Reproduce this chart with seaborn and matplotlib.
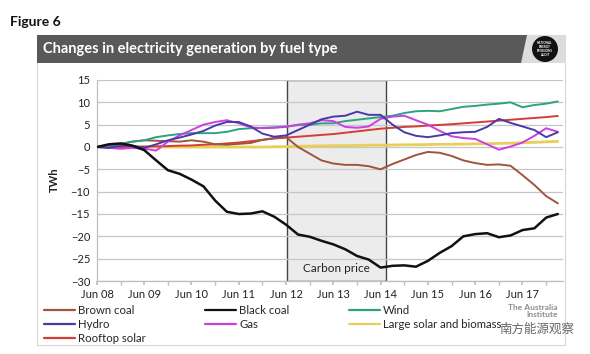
import pandas as pd
import matplotlib.pyplot as plt
import matplotlib.dates as mdates
from matplotlib.patches import Polygon, Rectangle, Ellipse
from matplotlib.lines import Line2D
import seaborn as sns

# quarterly readings, Jun 2008 -> Mar 2018 (TWh change since Jun 08)
dates = pd.date_range("2008-06-01", periods=40, freq="3MS")

brown_coal = [0, 0.5, 0.7, 1.2, 1.5, 1.4, 1.3, 1.2, 1.5, 1.2, 0.6, 0.5, 0.7, 0.9, 1.6, 2.0,
              2.2, 0.0, -1.5, -3.0, -3.7, -4.0, -4.0, -4.3, -5.0, -3.8, -2.8, -1.8, -1.1, -1.3,
              -2.0, -3.0, -3.6, -4.0, -3.9, -4.2, -6.3, -8.5, -11.0, -12.6]
black_coal = [0, 0.6, 0.8, 0.3, -0.7, -3.0, -5.2, -6.0, -7.3, -8.8, -12.0, -14.5, -15.0, -14.9,
              -14.4, -15.6, -17.4, -19.6, -20.1, -21.0, -21.8, -22.9, -24.4, -25.2, -27.0, -26.6,
              -26.5, -26.8, -25.5, -23.7, -22.2, -20.0, -19.5, -19.3, -20.2, -19.8, -18.6, -18.2,
              -15.8, -15.0]
wind = [0, 0.3, 0.6, 1.2, 1.5, 2.2, 2.6, 2.9, 3.1, 3.1, 3.1, 3.4, 4.0, 4.2, 4.3, 4.4, 4.6, 4.9,
        5.0, 5.3, 5.3, 5.8, 6.1, 6.4, 6.7, 7.0, 7.6, 8.0, 8.1, 8.0, 8.5, 9.0, 9.2, 9.5, 9.7,
        10.0, 8.9, 9.4, 9.7, 10.2]
hydro = [0, -0.2, 0.3, 0.3, -0.2, 0.6, 1.5, 2.1, 2.8, 3.6, 4.8, 5.6, 5.6, 4.6, 3.0, 2.3, 2.6,
         3.8, 5.0, 6.2, 6.8, 7.0, 7.9, 7.2, 7.2, 5.0, 3.3, 2.5, 2.2, 2.6, 3.1, 3.3, 3.4, 4.5,
         6.3, 5.4, 4.6, 3.8, 2.2, 3.3]
gas = [0, -0.2, -0.4, -0.2, -0.4, -0.8, 1.2, 2.6, 3.8, 5.0, 5.6, 6.0, 5.3, 4.4, 4.2, 4.3, 4.5,
       5.0, 5.3, 6.0, 5.8, 4.5, 4.3, 4.6, 6.3, 6.8, 7.0, 6.0, 5.0, 3.6, 2.4, 2.0, 1.8, 0.6,
       -0.6, 0.1, 1.0, 2.5, 4.2, 3.4]
large_solar = [0, 0, 0, 0, 0, 0, 0, 0, 0, 0, 0, 0, 0, 0, 0, 0.05, 0.1, 0.15, 0.2, 0.25, 0.3,
               0.3, 0.35, 0.4, 0.4, 0.45, 0.5, 0.5, 0.55, 0.6, 0.6, 0.65, 0.7, 0.75, 0.8, 0.85,
               0.95, 1.05, 1.15, 1.25]
rooftop_solar = [0, 0, 0, 0.05, 0.1, 0.15, 0.2, 0.3, 0.35, 0.5, 0.6, 0.8, 1.0, 1.3, 1.6, 1.9,
                 2.1, 2.3, 2.5, 2.7, 2.9, 3.2, 3.5, 3.8, 4.1, 4.3, 4.5, 4.6, 4.8, 4.95, 5.1, 5.3,
                 5.5, 5.7, 5.9, 6.1, 6.3, 6.5, 6.7, 6.95]

series = {
    "Large solar and biomass": (large_solar, "#e8cf5a", 2.0),
    "Rooftop solar": (rooftop_solar, "#d63c36", 1.4),
    "Brown coal": (brown_coal, "#a0553a", 1.4),
    "Wind": (wind, "#2ba383", 1.4),
    "Gas": (gas, "#cc3fe0", 1.4),
    "Hydro": (hydro, "#4a3aa8", 1.4),
    "Black coal": (black_coal, "#111111", 1.8),
}
legend_order = ["Brown coal", "Hydro", "Rooftop solar", "Black coal", "Gas",
                "Wind", "Large solar and biomass"]

sns.set_theme(style="whitegrid")
plt.rcParams['font.family'] = ['Lato', 'DejaVu Sans']

W, H = 590, 354
def fx(x): return x / W
def fy(y): return 1 - y / H

fig = plt.figure(figsize=(5.9, 3.54), dpi=100)
fig.patch.set_facecolor("white")

# title / header band
fig.text(fx(10), fy(22), "Figure 6", fontsize=10, fontweight="bold", va="center", color="#111")
fig.patches.append(Rectangle((fx(37), fy(345)), fx(565) - fx(37), fy(35) - fy(345),
                             transform=fig.transFigure, fill=False, ec="#d6d6d6", lw=0.8))
fig.patches.append(Polygon([(fx(37), fy(35)), (fx(566), fy(35)), (fx(566), fy(63)), (fx(37), fy(63))],
                           transform=fig.transFigure, fc="#dcdcdc", ec="none"))
fig.patches.append(Polygon([(fx(37), fy(35)), (fx(527), fy(35)), (fx(521), fy(63)), (fx(37), fy(63))],
                           transform=fig.transFigure, fc="#595959", ec="none"))
fig.patches.append(Ellipse((fx(545), fy(49)), 26 / W, 26 / H, transform=fig.transFigure,
                           fc="#111111", ec="none"))
fig.text(fx(545), fy(49), "NATIONAL\nENERGY\nEMISSIONS\nAUDIT", fontsize=2.2, color="white",
         ha="center", va="center", fontweight="bold", linespacing=1.1)
fig.text(fx(43), fy(49), "Changes in electricity generation by fuel type", fontsize=10.5,
         fontweight="bold", color="white", va="center")

ax = fig.add_axes([fx(97), fy(281), fx(563) - fx(97), (281 - 80) / H])
ax.set_facecolor("white")

ax.axvspan(pd.Timestamp("2012-06-10"), pd.Timestamp("2014-07-10"), fc="#ececec",
           ec="#444444", lw=1, zorder=0.3)
ax.text(pd.Timestamp("2013-06-25"), -27.3, "Carbon price", ha="center", va="center",
        fontsize=8.5, color="#222")

for name, (vals, col, lw) in series.items():
    sns.lineplot(x=dates, y=vals, ax=ax, color=col, lw=lw, legend=False, zorder=3)

ax.set_ylim(-30, 15)
ax.set_yticks(range(-30, 16, 5))
ax.set_xlim(pd.Timestamp("2008-06-01"), pd.Timestamp("2018-04-10"))
ax.xaxis.set_major_locator(mdates.MonthLocator(bymonth=6))
ax.xaxis.set_major_formatter(mdates.DateFormatter("%b %y"))
ax.xaxis.set_minor_locator(mdates.MonthLocator(bymonth=12))
ax.set_axisbelow(True)
ax.yaxis.grid(True, color="#c6c6c6", lw=0.9)
ax.xaxis.grid(False, which="both")
for s in ["top", "right"]:
    ax.spines[s].set_visible(False)
for s in ["left", "bottom"]:
    ax.spines[s].set_color("#bfbfbf")
    ax.spines[s].set_linewidth(0.9)
ax.tick_params(axis="y", length=0, labelsize=8, pad=5, colors="#222")
ax.tick_params(axis="x", which="both", bottom=True, length=3, direction="out",
               color="#bfbfbf", labelsize=8, pad=3, labelcolor="#222")
ax.set_xlabel("")
ax.set_ylabel("")
fig.text(fx(54), fy(180), "TWh", rotation=90, fontsize=8, fontweight="bold",
         ha="center", va="center", color="#222")

handles = [Line2D([], [], color=series[n][1], lw=1.6) for n in legend_order]
fig.legend(handles, legend_order, ncol=3, loc="upper left", bbox_to_anchor=(fx(44), fy(305)),
           frameon=False, fontsize=8.2, handlelength=2.7, handletextpad=0.3,
           columnspacing=5.2, labelspacing=0.28, borderaxespad=0, borderpad=0)

# logo and watermark
fig.text(fx(558), fy(311), "The Australia\nInstitute", fontsize=6, fontweight="bold",
         color="#8c8c8c", ha="right", va="center", linespacing=0.95)
fig.text(fx(537), fy(329), "南方能源观察", fontsize=9, color="#666666", ha="center",
         va="center", family=["Noto Sans CJK SC", "DejaVu Sans"])

fig.savefig("out.png", dpi=100)
